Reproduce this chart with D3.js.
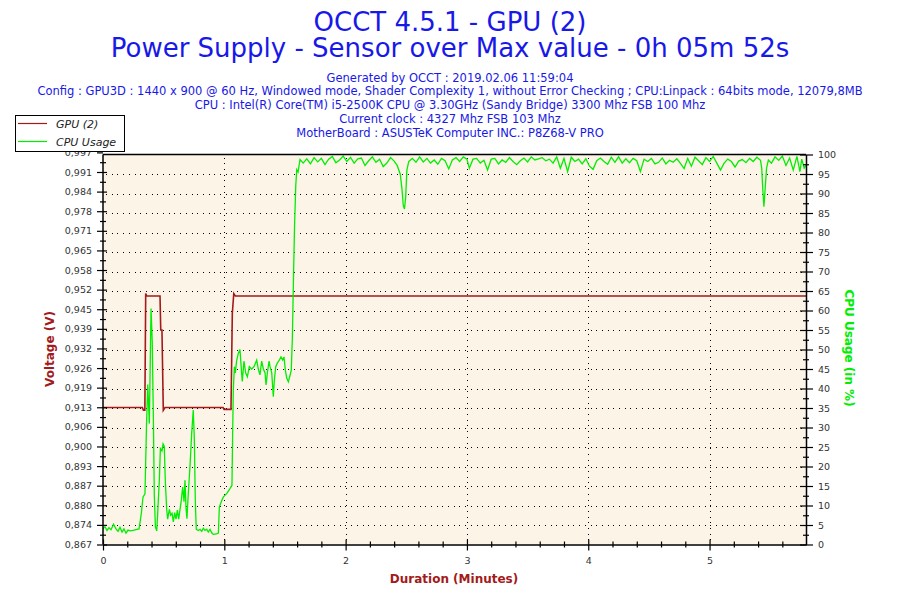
<!DOCTYPE html>
<html><head><meta charset="utf-8">
<script src="https://cdn.jsdelivr.net/npm/d3@7"></script>
<style>
html,body{margin:0;padding:0;background:#fff;}
svg{display:block;font-family:"DejaVu Sans",Verdana,sans-serif;}
</style></head>
<body><svg id="c" width="900" height="600"></svg>
<script>
// ---------- DATA ----------
const titleLines = ["OCCT 4.5.1 - GPU (2)", "Power Supply - Sensor over Max value - 0h 05m 52s"];
const infoLines = [
  "Generated by OCCT : 2019.02.06 11:59:04",
  "Config : GPU3D : 1440 x 900 @ 60 Hz, Windowed mode, Shader Complexity 1, without Error Checking ; CPU:Linpack : 64bits mode, 12079,8MB",
  "CPU : Intel(R) Core(TM) i5-2500K CPU @ 3.30GHz (Sandy Bridge) 3300 Mhz FSB 100 Mhz",
  "Current clock : 4327 Mhz FSB 103 Mhz",
  "MotherBoard : ASUSTeK Computer INC.: P8Z68-V PRO"
];
const seriesNames = ["GPU (2)", "CPU Usage"];
const xTicks = [0, 1, 2, 3, 4, 5];
const xMinorTicks = [0.2,0.4,0.6,0.8,1.2,1.4,1.6,1.8,2.2,2.4,2.6,2.8,3.2,3.4,3.6,3.8,4.2,4.4,4.6,4.8,5.2,5.4,5.6];
const voltTicks = [0.867,0.8735,0.880,0.8865,0.893,0.8995,0.906,0.9125,0.919,0.9255,0.932,0.9385,0.945,0.9515,0.958,0.9645,0.971,0.9775,0.984,0.9905,0.997];
const voltLabels = ["0,867","0,874","0,880","0,887","0,893","0,900","0,906","0,913","0,919","0,926","0,932","0,939","0,945","0,952","0,958","0,965","0,971","0,978","0,984","0,991","0,997"];
const cpuTicks = [0,5,10,15,20,25,30,35,40,45,50,55,60,65,70,75,80,85,90,95,100];

const gpuTime = [0, 0.325, 0.333, 0.345, 0.352, 0.360, 0.470, 0.476, 0.486, 0.497, 0.511, 0.990, 0.998, 1.055, 1.066, 1.078, 1.091, 5.795];
const gpuVolt = [0.9124, 0.9124, 0.9115, 0.9115, 0.9502, 0.9494, 0.9494, 0.9381, 0.9381, 0.9115, 0.9124, 0.9124, 0.9118, 0.9118, 0.9436, 0.9502, 0.9494, 0.9494];

const cpuTime = [
 0, 0.016, 0.033, 0.049, 0.066, 0.087, 0.107, 0.124, 0.140, 0.157, 0.173, 0.190, 0.206, 0.223, 0.247, 0.272, 0.297,
 0.316, 0.330, 0.346, 0.359, 0.369, 0.382, 0.396, 0.406, 0.415, 0.423, 0.432, 0.443, 0.451, 0.465, 0.473, 0.486,
 0.495, 0.505, 0.514, 0.525, 0.533, 0.547, 0.558, 0.569, 0.580, 0.591, 0.602, 0.613, 0.624, 0.635, 0.646, 0.657,
 0.668, 0.676, 0.684, 0.692, 0.703, 0.717, 0.731, 0.744, 0.753, 0.761, 0.769, 0.786, 0.800, 0.814, 0.827, 0.841,
 0.855, 0.868, 0.882, 0.896, 0.909, 0.937, 0.951, 0.959, 0.979, 0.993, 1.021, 1.048, 1.063, 1.069, 1.074, 1.083,
 1.091, 1.101, 1.115, 1.129, 1.138, 1.148, 1.162, 1.176, 1.190, 1.206, 1.226, 1.245, 1.267, 1.280, 1.294, 1.308,
 1.322, 1.336, 1.344, 1.355, 1.369, 1.377, 1.391, 1.404, 1.412, 1.424, 1.437, 1.454, 1.467, 1.481, 1.492, 1.503,
 1.515, 1.528, 1.542, 1.552, 1.561, 1.571, 1.579, 1.589, 1.597, 1.608, 1.624,
 1.65, 1.68, 1.71, 1.74, 1.77, 1.80, 1.83, 1.86, 1.89, 1.92, 1.95, 1.98, 2.01, 2.04, 2.07, 2.10, 2.13, 2.16, 2.19,
 2.22, 2.25, 2.28, 2.31, 2.34, 2.37, 2.40, 2.425, 2.45, 2.465, 2.475, 2.485, 2.495, 2.505, 2.52, 2.55, 2.58, 2.61,
 2.64, 2.67, 2.70, 2.73, 2.76, 2.79, 2.82, 2.85, 2.88, 2.91, 2.94, 2.97, 3.00, 3.02, 3.05, 3.08, 3.11, 3.14, 3.17,
 3.20, 3.23, 3.26, 3.29, 3.32, 3.35, 3.38, 3.41, 3.44, 3.47, 3.50, 3.53, 3.56, 3.59, 3.62, 3.65, 3.68, 3.71, 3.74,
 3.77, 3.80, 3.83, 3.86, 3.89, 3.92, 3.95, 3.98, 4.01, 4.04, 4.07, 4.10, 4.13, 4.16, 4.19, 4.22, 4.25, 4.28, 4.31,
 4.34, 4.37, 4.40, 4.43, 4.46, 4.49, 4.52, 4.55, 4.58, 4.61, 4.64, 4.67, 4.70, 4.73, 4.76, 4.79, 4.82, 4.85, 4.88,
 4.91, 4.94, 4.97, 5.00, 5.03, 5.06, 5.09, 5.12, 5.15, 5.18, 5.21, 5.24, 5.27, 5.30, 5.33, 5.36, 5.39, 5.42, 5.43,
 5.437, 5.448, 5.459, 5.47, 5.485, 5.51, 5.54, 5.57, 5.60, 5.63, 5.66, 5.69, 5.72, 5.745, 5.76, 5.78, 5.795
];
const cpuUsage = [
 4.0, 4.6, 3.6, 4.3, 3.8, 5.2, 4.0, 3.4, 4.4, 3.2, 4.0, 2.9, 3.7, 3.5, 3.6, 3.8, 4.0,
 8.0, 12.2, 13.0, 31, 41, 31, 60.5, 52, 33, 12.5, 4.5, 3.5, 8, 17, 24.6, 24.0,
 25.8, 25.2, 16, 9, 6.5, 9, 7.5, 8, 5.8, 8.2, 6.5, 8.8, 6.5, 9, 11.5, 14.7,
 11, 16.5, 9.5, 6.6, 13, 20, 28.5, 34.5, 27, 11, 3.9, 3.6, 3.9, 3.4, 4.2, 3.6,
 3.9, 3.2, 3.9, 3.0, 2.6, 2.7, 2.9, 9.6, 11.3, 12.2, 13.1, 14.4, 15.2, 29, 39.5, 45.6,
 44, 47, 49, 50, 46, 41.8, 47, 44, 43, 45.6, 45, 45.6, 47.3, 45, 43.5, 47,
 45, 44, 40.9, 44, 47, 45.6, 44, 37.9, 42, 45.6, 46.5, 47.3, 48.1, 47.3, 48.1, 44.7,
 42.6, 41.7, 43.4, 44.7, 53, 69.6, 81.7, 92, 96.1, 95.5, 98.7,
 97.8, 98.9, 97.6, 99.2, 98.1, 99.0, 97.4, 98.8, 99.5, 97.9, 98.6, 99.6, 98.2, 99.3, 97.8, 98.9, 99.1, 97.2, 98.4,
 99.4, 98.0, 98.8, 96.9, 97.8, 99.2, 98.3, 97.2, 95.0, 91, 87, 86, 89, 96, 98.2, 99.0, 98.0, 99.4,
 98.1, 99.0, 97.8, 98.6, 97.5, 99.0, 98.4, 96.3, 98.6, 99.2, 98.2, 99.4, 98.8, 96.5, 98.8, 99.0, 97.8, 98.5, 96.0,
 98.8, 99.0, 97.6, 98.6, 98.0, 99.2, 98.2, 97.4, 98.4, 99.1, 98.1, 99.4, 98.6, 98.9, 99.2, 98.4, 98.8, 97.8, 99.4,
 96.5, 99.0, 95.6, 99.3, 98.2, 98.8, 97.6, 98.9, 97.0, 96.2, 98.4, 99.1, 98.2, 97.5, 99.3, 98.0, 99.4, 97.8, 98.9,
 97.9, 99.0, 98.4, 95.6, 98.8, 98.2, 99.0, 97.6, 98.0, 99.1, 97.6, 98.5, 98.0, 98.9, 97.7, 96.4, 99.0, 97.0, 99.3,
 98.4, 97.4, 99.2, 98.2, 99.5, 97.8, 96.0, 97.8, 98.8, 98.2, 96.8, 98.3, 98.7, 97.9, 99.0, 98.2, 99.3, 98.5, 96.5,
 92, 86.6, 91.5, 96.5, 98.6, 97.8, 99.4, 98.5, 99.6, 97.2, 99.1, 96.0, 99.5, 95.6, 98.8, 96.5, 97.2
];

// ---------- CHART ----------
const svg = d3.select("#c");
const L = 103, R = 806, T = 154.5, B = 544.5;
const x = d3.scaleLinear().domain([0, 5.795]).range([L, R]);
const yV = d3.scaleLinear().domain([0.867, 0.9963]).range([B, T]);
const yC = d3.scaleLinear().domain([0, 100]).range([B, T]);

const blue = "#1818e8", darkRed = "#a31a1a", green = "#00ee00";

// titles
svg.selectAll("text.title").data(titleLines).join("text")
  .attr("x", 450).attr("y", (d, i) => i === 0 ? 31 : 57)
  .attr("text-anchor", "middle").attr("font-size", 26).attr("fill", blue).text(d => d);
svg.selectAll("text.info").data(infoLines).join("text")
  .attr("x", 450).attr("y", (d, i) => 81.5 + i * 13.8)
  .attr("text-anchor", "middle").attr("font-size", 11.5).attr("fill", blue).text(d => d);

// plot background
svg.append("rect").attr("x", L).attr("y", T).attr("width", R - L).attr("height", B - T).attr("fill", "#fcf5e7");

// grid
const grid = svg.append("g").attr("stroke", "#000").attr("stroke-width", 1).attr("stroke-dasharray", "1,4.7").attr("shape-rendering", "crispEdges");
grid.selectAll("line.h").data(cpuTicks.filter(d => d > 0 && d < 100)).join("line")
  .attr("x1", L + 3).attr("x2", R).attr("y1", d => Math.round(yC(d)) + 0.5).attr("y2", d => Math.round(yC(d)) + 0.5);
grid.selectAll("line.v").data(xTicks.filter(d => d > 0)).join("line")
  .attr("y1", T + 3).attr("y2", B).attr("x1", d => Math.round(x(d)) + 0.5).attr("x2", d => Math.round(x(d)) + 0.5);

// clip
svg.append("clipPath").attr("id", "clip").append("rect").attr("x", L).attr("y", T - 1).attr("width", R - L).attr("height", B - T + 1);

// lines
const gpuLine = d3.line().x((d, i) => x(gpuTime[i])).y((d, i) => yV(gpuVolt[i]));
svg.append("path").attr("clip-path", "url(#clip)").attr("d", gpuLine(gpuTime))
  .attr("fill", "none").attr("stroke", darkRed).attr("stroke-width", 1.6);
const cpuLine = d3.line().x((d, i) => x(cpuTime[i])).y((d, i) => yC(cpuUsage[i]));
svg.append("path").attr("clip-path", "url(#clip)").attr("d", cpuLine(cpuTime))
  .attr("fill", "none").attr("stroke", green).attr("stroke-width", 1.3);

// top border
svg.append("line").attr("x1", L).attr("x2", R).attr("y1", T).attr("y2", T).attr("stroke", "#000").attr("stroke-width", 1.5);

function styleAxis(g) {
  g.select(".domain").attr("stroke", "#000").attr("stroke-width", 1.5);
  g.selectAll(".tick line").attr("stroke", "#000").attr("stroke-width", 1.2);
  g.selectAll(".tick text").attr("fill", "#333").attr("font-family", "DejaVu Sans").attr("font-size", 9.5);
}
// bottom axis
const gx = svg.append("g").attr("transform", `translate(0,${B})`)
  .call(d3.axisBottom(x).tickValues(xTicks).tickFormat(d3.format("d")).tickSize(6).tickPadding(7).tickSizeOuter(0));
styleAxis(gx);
svg.append("g").attr("transform", `translate(0,${B})`)
  .call(d3.axisTop(x).tickValues(xTicks).tickFormat("").tickSize(5).tickSizeOuter(0))
  .call(g => { g.select(".domain").remove(); g.selectAll("line").attr("stroke", "#000").attr("stroke-width", 1.2); });
svg.append("g").attr("transform", `translate(0,${B - 3})`)
  .call(d3.axisBottom(x).tickValues(xMinorTicks).tickFormat("").tickSize(6).tickSizeOuter(0))
  .call(g => { g.select(".domain").remove(); g.selectAll("line").attr("stroke", "#000").attr("stroke-width", 1.2); });

// left axis (voltage)
const gl = svg.append("g").attr("transform", `translate(${L},0)`)
  .call(d3.axisLeft(yV).tickValues(voltTicks).tickFormat((d, i) => voltLabels[i]).tickSize(6).tickPadding(5).tickSizeOuter(0));
styleAxis(gl);
gl.select(".domain").attr("d", `M0,${B}V${T}`);
svg.append("g").attr("transform", `translate(${L},0)`)
  .call(d3.axisRight(yV).tickValues(voltTicks.slice(0, 20)).tickFormat("").tickSize(4).tickSizeOuter(0))
  .call(g => { g.select(".domain").remove(); g.selectAll("line").attr("stroke", "#000").attr("stroke-width", 1.2); });
svg.append("g").attr("transform", `translate(${L - 3},0)`)
  .call(d3.axisRight(yV).tickValues(voltTicks.slice(0, 20).map((d, i) => (d + voltTicks[i + 1]) / 2)).tickFormat("").tickSize(6).tickSizeOuter(0))
  .call(g => { g.select(".domain").remove(); g.selectAll("line").attr("stroke", "#000").attr("stroke-width", 1.2); });

// right axis (CPU)
const gr = svg.append("g").attr("transform", `translate(${R},0)`)
  .call(d3.axisRight(yC).tickValues(cpuTicks).tickFormat(d3.format("d")).tickSize(7).tickPadding(5).tickSizeOuter(0));
styleAxis(gr);
svg.append("g").attr("transform", `translate(${R},0)`)
  .call(d3.axisLeft(yC).tickValues(cpuTicks).tickFormat("").tickSize(6).tickSizeOuter(0))
  .call(g => { g.select(".domain").remove(); g.selectAll("line").attr("stroke", "#000").attr("stroke-width", 1.2); });
svg.append("g").attr("transform", `translate(${R - 3},0)`)
  .call(d3.axisRight(yC).tickValues(cpuTicks.slice(0, 20).map(d => d + 2.5)).tickFormat("").tickSize(6).tickSizeOuter(0))
  .call(g => { g.select(".domain").remove(); g.selectAll("line").attr("stroke", "#000").attr("stroke-width", 1.2); });

// axis titles
svg.append("text").attr("transform", "translate(54,349) rotate(-90)").attr("text-anchor", "middle")
  .attr("font-size", 12).attr("font-weight", "bold").attr("fill", darkRed).text("Voltage (V)");
svg.append("text").attr("transform", "translate(845,348) rotate(90)").attr("text-anchor", "middle")
  .attr("font-size", 12).attr("font-weight", "bold").attr("fill", green).text("CPU Usage (in %)");
svg.append("text").attr("x", 454).attr("y", 583).attr("text-anchor", "middle")
  .attr("font-size", 12).attr("font-weight", "bold").attr("fill", darkRed).text("Duration (Minutes)");

// legend
const lg = svg.append("g");
lg.append("rect").attr("x", 15.5).attr("y", 115.5).attr("width", 109).attr("height", 36).attr("fill", "#fff").attr("stroke", "#000").attr("stroke-width", 1);
const legColors = [darkRed, green];
seriesNames.forEach((n, i) => {
  const yy = 123.5 + i * 18;
  lg.append("line").attr("x1", 18).attr("x2", 47).attr("y1", yy).attr("y2", yy).attr("stroke", legColors[i]).attr("stroke-width", 1.2);
  lg.append("text").attr("x", 56).attr("y", yy + 4).attr("font-size", 11).attr("font-style", "italic").attr("fill", "#222").text(n);
});
</script></body></html>
